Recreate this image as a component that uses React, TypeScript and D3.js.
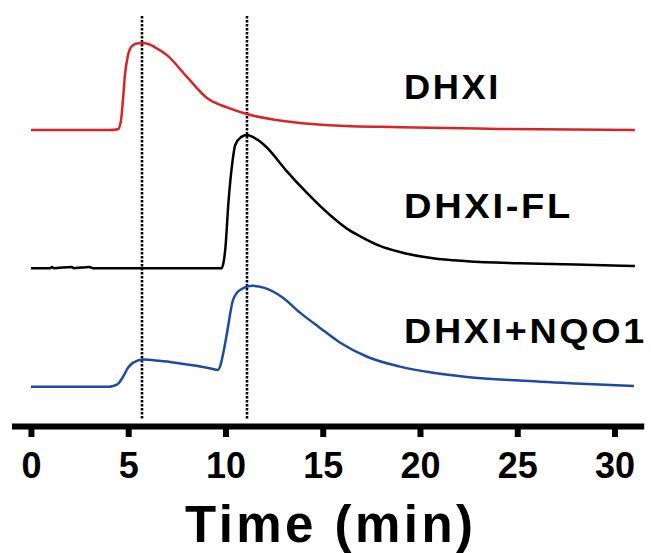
import React, { useEffect, useRef } from 'react';
import { select, axisBottom, scaleLinear, line, curveMonotoneX } from 'd3';

// retention time (min) / signal (a.u.)
const redTime = [0, 4.06, 4.47, 4.63, 4.73, 4.83, 4.99, 5.19, 5.5, 5.86, 6.38, 6.99, 8.02, 9.05, 10.08, 11.1, 12.96, 15.37, 18.97, 24.1, 31.05];
const redSignal = [0, 0, 0.2, 2.4, 7.3, 13.3, 18.2, 20.4, 21.1, 21.1, 20.1, 18.2, 12.9, 7.8, 5.5, 3.9, 2.2, 1.2, 0.7, 0.3, 0];

const blackTime = [0, 1.0, 1.08, 1.15, 2.1, 2.2, 2.6, 3.0, 3.2, 9.8, 9.92, 10.0, 10.15, 10.35, 10.5, 10.8, 11.1, 11.6, 12.1, 13.1, 14.2, 15.37, 16.4, 16.9, 17.94, 18.97, 20.67, 22.4, 25.1, 28.0, 31.05];
const blackSignal = [0, 0, 0.3, 0, 0.3, 0, 0.15, 0.25, 0, 0, 1.9, 5.1, 15.8, 25.5, 29.9, 31.8, 32.3, 31.3, 29.4, 23.8, 18.2, 12.9, 9.1, 7.8, 5.4, 3.9, 2.4, 1.7, 1.2, 0.9, 0.5];

const blueTime = [0, 4.0, 4.22, 4.47, 4.73, 4.99, 5.24, 5.76, 6.6, 7.5, 8.5, 9.3, 9.6, 9.72, 9.92, 10.08, 10.39, 10.75, 11.41, 12.0, 12.9, 13.83, 14.86, 15.9, 17.28, 18.97, 20.67, 22.4, 25.1, 28.0, 31.0];
const blueSignal = [0, 0, 0.2, 0.7, 2.4, 4.6, 5.8, 6.6, 6.3, 5.8, 5.1, 4.4, 4.1, 4.9, 9.0, 13.1, 21.1, 23.5, 24.5, 24.0, 21.8, 18.0, 14.3, 10.7, 7.3, 4.9, 3.4, 2.4, 1.5, 0.8, 0.2];

const seriesNames = ['DHXI', 'DHXI-FL', 'DHXI+NQO1'];
const seriesOffsets = [72.3, 38.8, 10.0];
const seriesColors = ['#d92423', '#000000', '#1e4aa3'];
const markerTimes = [5.7, 11.1];
const xTicks = [0, 5, 10, 15, 20, 25, 30];

const width = 651;
const height = 553;
const axisY = 426;
const font = '"Liberation Sans", Arial, sans-serif';

function App() {
  const axisRef = useRef(null);

  const xScale = scaleLinear().domain([-1, 31.5]).range([11.5, 643.7]);
  const yScale = scaleLinear().domain([0, 100]).range([428, 16]);

  const traces = [
    { time: redTime, signal: redSignal },
    { time: blackTime, signal: blackSignal },
    { time: blueTime, signal: blueSignal },
  ];

  // label placement (baseline, total width)
  const labelBaselines = [99, 218, 343];
  const labelWidths = [97, 169, 243];

  useEffect(() => {
    const g = select(axisRef.current);
    const xAxis = axisBottom(xScale).tickValues(xTicks).tickSize(11).tickSizeOuter(0);
    g.call(xAxis);
    g.select('.domain').attr('stroke', '#000').attr('stroke-width', 6);
    g.selectAll('.tick line').attr('stroke', '#000').attr('stroke-width', 6);
    g.selectAll('.tick text')
      .attr('dy', null)
      .attr('y', 52)
      .attr('fill', '#000')
      .style('font-family', font)
      .style('font-size', '36px')
      .style('font-weight', 'bold');
  }, []);

  return (
    <svg width={width} height={height} style={{ position: 'absolute', left: 0, top: 0, background: '#fff' }}>
      {markerTimes.map((t) => (
        <line
          key={t}
          x1={Math.round(xScale(t))}
          x2={Math.round(xScale(t))}
          y1={yScale(100)}
          y2={axisY - 7}
          stroke="#000"
          strokeWidth={2.6}
          strokeDasharray="2.4,1.6"
        />
      ))}

      {traces.map((tr, i) => {
        const path = line<number>()
          .x((d, j) => xScale(tr.time[j]))
          .y((d) => yScale(d + seriesOffsets[i]))
          .curve(curveMonotoneX);
        return (
          <path
            key={seriesNames[i]}
            d={path(tr.signal) || ''}
            fill="none"
            stroke={seriesColors[i]}
            strokeWidth={2.5}
            strokeLinejoin="round"
          />
        );
      })}

      {seriesNames.map((name, i) => (
        <text
          key={name}
          x={404}
          y={labelBaselines[i]}
          fontFamily={font}
          fontSize={35}
          fontWeight="bold"
          letterSpacing={2.5}
          textLength={labelWidths[i]}
          lengthAdjust="spacingAndGlyphs"
          fill="#000"
        >
          {name}
        </text>
      ))}

      <g ref={axisRef} transform={`translate(0,${axisY})`} />

      <text
        x={185}
        y={542}
        fontFamily={font}
        fontSize={51}
        fontWeight="bold"
        textLength={288}
        lengthAdjust="spacing"
        fill="#000"
      >
        Time (min)
      </text>
    </svg>
  );
}

export default App;
